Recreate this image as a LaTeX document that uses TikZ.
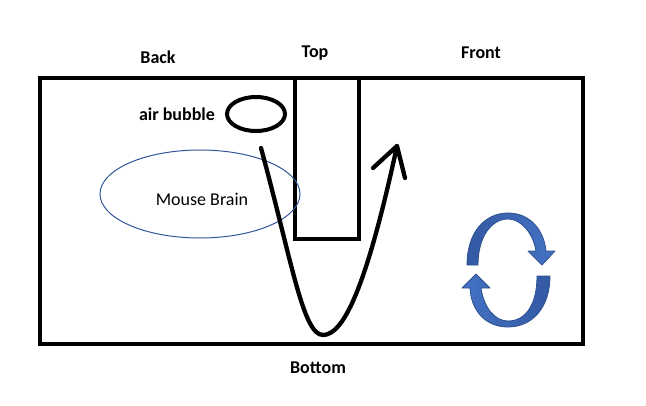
\documentclass[tikz,border=0pt]{standalone}
\usepackage{fontspec}
\setmainfont{Carlito}
\definecolor{brainblue}{HTML}{2F5597}
\definecolor{rotfill}{HTML}{4472C4}
\definecolor{rotdark}{HTML}{3459A3}
\definecolor{rotedge}{HTML}{2F528F}
\begin{document}
\begin{tikzpicture}[x=1pt,y=-1pt,
	lbl/.style={font=\fontsize{18}{20}\selectfont\bfseries, inner sep=0pt},
	wall/.style={line width=4pt, line join=miter},
	rotarrow/.style={draw=rotedge, line width=0.8pt, line join=round}]
	\useasboundingbox (0,0) rectangle (646,405);
	
	% labels
	\node[lbl] (back) at (158,57) {Back};
	\node[lbl] (top) at (315,53) {Top};
	\node[lbl] (front) at (481,53) {Front};
	\node[lbl] (bottom) at (318,368) {Bottom};
	\node[lbl] (bubtxt) at (177,114) {air bubble};
	
	% chamber and tube
	\draw[wall] (40,78) rectangle (583,344);
	\draw[wall] (295,78) rectangle (359,239);
	
	% bubble and brain
	\draw[line width=4pt] (256,114) ellipse [x radius=29, y radius=17];
	\draw[brainblue, line width=1pt] (200,194) ellipse [x radius=100, y radius=44];
	\node[font=\fontsize{18}{20}\selectfont, inner sep=0pt] (brain) at (202,199) {Mouse Brain};
	
	% flow path
	\coordinate (fs) at (261,148);
	\coordinate (fb) at (323,335);
	\coordinate (ft) at (397,146);
	\coordinate (wl) at (373,168);
	\coordinate (wr) at (405,178);
	\draw[line width=4.3pt, line cap=round] (fs) .. controls (292,262) and (303,335) .. (fb)
		.. controls (345,335) and (368,280) .. (ft);
	\draw[line width=4.3pt, line cap=round, line join=round] (wl) -- (ft) -- (wr);
	
	% rotation
	\draw[rotarrow, left color=rotdark, right color=rotfill] (467,265) .. controls (467,232) and (485,213) .. (508,213)
		.. controls (530,213) and (544,230) .. (546,251) -- (555,251) -- (542,265) -- (528,251) -- (536,251)
		.. controls (533,233) and (521,219) .. (508,219)
		.. controls (492,219) and (478,236) .. (478,265) -- cycle;
	\draw[rotarrow, left color=rotfill, right color=rotdark] (550,276) .. controls (550,308) and (532,327) .. (508,327)
		.. controls (485,327) and (471,310) .. (470,288) -- (462,288) -- (476,274) -- (490,288) -- (481,288)
		.. controls (484,308) and (495,321) .. (508,321)
		.. controls (526,321) and (537,304) .. (537,276) -- cycle;
\end{tikzpicture}
\end{document}
